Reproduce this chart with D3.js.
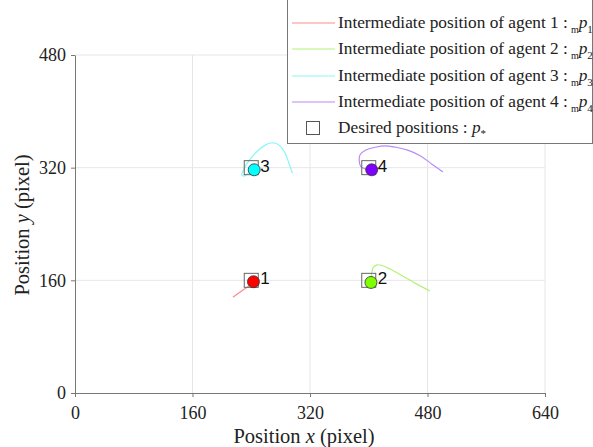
<!DOCTYPE html>
<html>
<head>
<meta charset="utf-8">
<script src="https://cdn.jsdelivr.net/npm/d3@7"></script>
<style>
  body { margin: 0; background: #fff; }
  svg { display: block; }
  .serif { font-family: "Liberation Serif", "Times New Roman", serif; fill: #222; }
</style>
</head>
<body>
<svg id="chart" width="593" height="447"></svg>
<script>
// axis ticks
const xTicks = [0, 160, 320, 480, 640];
const yTicks = [0, 160, 320, 480];

// desired positions p*
const desired = [[240, 160], [400, 160], [240, 320], [400, 320]];
// final agent positions
const finalPos = [[243, 158], [403, 157], [244, 317], [404, 317]];

// intermediate trajectories
const path1 = [[215, 136], [227, 145], [238, 153], [243, 158]];
const path2 = [[483, 145], [463, 156], [443, 168], [429, 176], [418, 181], [411, 182],
               [406, 178], [404, 170], [404, 163], [403, 157]];
const path3 = [[296, 312], [291, 327], [286, 341], [279, 351], [272, 355], [266, 355],
               [259, 352], [249, 344], [240, 334], [233, 324], [229, 315], [227, 310],
               [230, 308], [236, 312], [244, 317]];
const path4 = [[501, 314], [486, 325], [470, 337], [453, 345], [437, 349], [422, 351],
               [409, 349], [396, 345], [388, 338], [387, 330], [389, 322], [396, 318], [404, 317]];
const paths = [path1, path2, path3, path4];

const lineColors = ["#ff8a8a", "#b4f27a", "#8af5f5", "#b98af7"];
const dotColors = ["#ff0000", "#80ff00", "#00ffff", "#8000ff"];
const agentLabels = ["1", "2", "3", "4"];

const svg = d3.select("#chart");
const x = d3.scaleLinear().domain([0, 640]).range([75, 545]);
const y = d3.scaleLinear().domain([0, 480]).range([393, 55]);

//  grid
svg.append("g").selectAll("line").data(xTicks.slice(1)).join("line")
    .attr("x1", d => x(d)).attr("x2", d => x(d)).attr("y1", y(0)).attr("y2", y(480))
    .attr("stroke", "#e6e6e6");
svg.append("g").selectAll("line").data(yTicks.slice(1)).join("line")
    .attr("x1", x(0)).attr("x2", x(640)).attr("y1", d => y(d)).attr("y2", d => y(d))
    .attr("stroke", "#e6e6e6");

//  axes
const xAxis = svg.append("g").attr("transform", `translate(0,${y(0)})`)
    .call(d3.axisBottom(x).tickValues(xTicks).tickSize(4).tickPadding(9).tickSizeOuter(0));
const yAxis = svg.append("g").attr("transform", `translate(${x(0)},0)`)
    .call(d3.axisLeft(y).tickValues(yTicks).tickSize(4).tickPadding(5).tickSizeOuter(0));
[xAxis, yAxis].forEach(a => {
    a.select(".domain").attr("stroke", "#777");
    a.selectAll(".tick line").attr("stroke", "#777");
    a.selectAll("text").attr("class", "serif").style("font-size", "18px").attr("fill", "#222");
});

//  axis titles
const xt = svg.append("text").attr("class", "serif").attr("x", 304).attr("y", 443)
    .attr("text-anchor", "middle").style("font-size", "20.5px");
xt.append("tspan").text("Position ");
xt.append("tspan").style("font-style", "italic").text("x");
xt.append("tspan").text(" (pixel)");

const yt = svg.append("text").attr("class", "serif")
    .attr("transform", "translate(29,225) rotate(-90)")
    .attr("text-anchor", "middle").style("font-size", "20.5px");
yt.append("tspan").text("Position ");
yt.append("tspan").style("font-style", "italic").text("y");
yt.append("tspan").text(" (pixel)");

//  trajectories
const line = d3.line().x(d => x(d[0])).y(d => y(d[1])).curve(d3.curveCatmullRom);
svg.append("g").selectAll("path").data(paths).join("path")
    .attr("d", line).attr("fill", "none")
    .attr("stroke", (d, i) => lineColors[i]).attr("stroke-width", 1.2);

//  desired squares
svg.append("g").selectAll("rect").data(desired).join("rect")
    .attr("x", d => x(d[0]) - 7).attr("y", d => y(d[1]) - 7)
    .attr("width", 14).attr("height", 14)
    .attr("fill", "none").attr("stroke", "#666").attr("stroke-width", 1);

//  final positions
svg.append("g").selectAll("circle").data(finalPos).join("circle")
    .attr("cx", d => x(d[0])).attr("cy", d => y(d[1])).attr("r", 6)
    .attr("fill", (d, i) => dotColors[i]).attr("stroke", "#333").attr("stroke-width", 0.8);

//  agent numbers
svg.append("g").selectAll("text").data(desired).join("text")
    .attr("x", d => x(d[0]) + 9).attr("y", d => y(d[1]) + 4)
    .attr("font-family", "Liberation Sans, Arial, sans-serif").attr("font-size", "17px")
    .attr("fill", "#111")
    .text((d, i) => agentLabels[i]);

//  legend
const lg = svg.append("g");
lg.append("rect").attr("x", 287.5).attr("y", -1).attr("width", 305).attr("height", 144.5)
    .attr("fill", "#fff").attr("stroke", "#777");
const rowY = [23, 49, 76, 102, 128];
lineColors.forEach((c, i) => {
    lg.append("line").attr("x1", 292).attr("x2", 335).attr("y1", rowY[i]).attr("y2", rowY[i])
        .attr("stroke", c).attr("stroke-width", 1.2);
    const t = lg.append("text").attr("class", "serif").attr("x", 338).attr("y", rowY[i] + 5)
        .style("font-size", "17.3px");
    t.append("tspan").text(`Intermediate position of agent ${agentLabels[i]} :`);
    t.append("tspan").attr("dx", 3).attr("dy", 5).style("font-size", "10px").text("m");
    t.append("tspan").attr("dy", -5).style("font-style", "italic").text("p");
    t.append("tspan").attr("dy", 5).style("font-size", "11px").text(agentLabels[i]);
});
lg.append("rect").attr("x", 306.5).attr("y", rowY[4] - 6.5).attr("width", 13).attr("height", 13)
    .attr("fill", "none").attr("stroke", "#555");
const dt = lg.append("text").attr("class", "serif").attr("x", 338).attr("y", rowY[4] + 5)
    .style("font-size", "17.3px");
dt.append("tspan").text("Desired positions : ");
dt.append("tspan").style("font-style", "italic").text("p");
dt.append("tspan").attr("dy", 4).style("font-size", "11px").text("*");
</script>
</body>
</html>
